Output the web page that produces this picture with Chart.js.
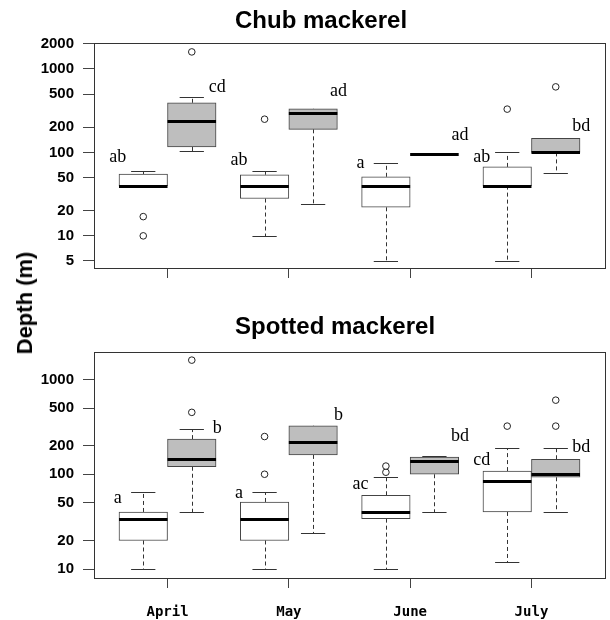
<!DOCTYPE html>
<html>
<head>
<meta charset="utf-8">
<script src="https://cdn.jsdelivr.net/npm/chart.js@4/dist/chart.umd.min.js"></script>
<style>
  html, body { margin: 0; padding: 0; background: #fff; }
  #wrap { position: relative; width: 610px; height: 620px; }
  #top { position: absolute; left: 0; top: 0; }
  #bottom { position: absolute; left: 0; top: 300px; }
  #ylab {
    position: absolute; left: 25px; top: 303px;
    transform: translate(-50%, -50%) rotate(-90deg);
    font: bold 22px "Liberation Sans", Arial, sans-serif;
    white-space: nowrap; color: #000;
  }
</style>
</head>
<body>
<div id="wrap">
  <canvas id="top" width="610" height="300"></canvas>
  <canvas id="bottom" width="610" height="320"></canvas>
  <div id="ylab">Depth (m)</div>
</div>
<script>
const months = ['April', 'May', 'June', 'July'];

// Chub mackerel (white = first box of each month, grey = second)
const chubTicks = [5, 10, 20, 50, 100, 200, 500, 1000, 2000];
const chubWhiteLow = [40, 10, 5, 5];
const chubWhiteQ1 = [40, 28, 22, 40];
const chubWhiteMed = [40, 40, 40, 40];
const chubWhiteQ3 = [55, 54, 51, 67];
const chubWhiteHigh = [60, 60, 75, 102];
const chubWhiteOut = [[17, 10], [250], [], [330]];
const chubGreyLow = [104, 24, 95, 57];
const chubGreyQ1 = [116, 189, 95, 100];
const chubGreyMed = [239, 294, 95, 100];
const chubGreyQ3 = [393, 333, 95, 147];
const chubGreyHigh = [464, 333, 95, 147];
const chubGreyOut = [[1600], [], [], [610]];
const chubWhiteLetters = ['ab', 'ab', 'a', 'ab'];
const chubGreyLetters = ['cd', 'ad', 'ad', 'bd'];
const chubWhiteLetterAt = [87, 81, 74, 87];
const chubGreyLetterAt = [601, 533, 161, 208];

// Spotted mackerel
const spotTicks = [10, 20, 50, 100, 200, 500, 1000];
const spotWhiteLow = [10, 10, 10, 12];
const spotWhiteQ1 = [20, 20, 34, 40];
const spotWhiteMed = [34, 34, 40, 84];
const spotWhiteQ3 = [40, 51, 60, 108];
const spotWhiteHigh = [65, 65, 94, 188];
const spotWhiteOut = [[], [100, 250], [105, 122], [322]];
const spotGreyLow = [40, 24, 40, 40];
const spotGreyQ1 = [120, 160, 100, 93];
const spotGreyMed = [145, 217, 138, 100];
const spotGreyQ3 = [235, 325, 152, 144];
const spotGreyHigh = [300, 325, 157, 188];
const spotGreyOut = [[450, 1600], [], [], [322, 605]];
const spotWhiteLetters = ['a', 'a', 'ac', 'cd'];
const spotGreyLetters = ['b', 'b', 'bd', 'bd'];
const spotWhiteLetterAt = [56, 63, 79, 141];
const spotGreyLetterAt = [302, 421, 249, 195];

function buildBoxes(low, q1, med, q3, high, out, shift) {
  return months.map((m, i) => ({
    x: i + 1 + shift, low: low[i], q1: q1[i], med: med[i], q3: q3[i], high: high[i], out: out[i]
  }));
}

const panels = {
  top: {
    title: 'Chub mackerel', titleY: 28,
    ticks: chubTicks, yMin: 4.12, yMax: 2046,
    white: buildBoxes(chubWhiteLow, chubWhiteQ1, chubWhiteMed, chubWhiteQ3, chubWhiteHigh, chubWhiteOut, -0.2),
    grey: buildBoxes(chubGreyLow, chubGreyQ1, chubGreyMed, chubGreyQ3, chubGreyHigh, chubGreyOut, 0.2),
    whiteLetters: chubWhiteLetters, greyLetters: chubGreyLetters,
    whiteLetterAt: chubWhiteLetterAt, greyLetterAt: chubGreyLetterAt,
    showMonths: false, padTop: 43, xHeight: 32
  },
  bottom: {
    title: 'Spotted mackerel', titleY: 34,
    ticks: spotTicks, yMin: 8.04, yMax: 1950,
    white: buildBoxes(spotWhiteLow, spotWhiteQ1, spotWhiteMed, spotWhiteQ3, spotWhiteHigh, spotWhiteOut, -0.2),
    grey: buildBoxes(spotGreyLow, spotGreyQ1, spotGreyMed, spotGreyQ3, spotGreyHigh, spotGreyOut, 0.2),
    whiteLetters: spotWhiteLetters, greyLetters: spotGreyLetters,
    whiteLetterAt: spotWhiteLetterAt, greyLetterAt: spotGreyLetterAt,
    showMonths: true, padTop: 52, xHeight: 42
  }
};

function hline(ctx, x1, x2, y) {
  ctx.beginPath();
  ctx.moveTo(x1, y);
  ctx.lineTo(x2, y);
  ctx.stroke();
}

const boxPlot = {
  id: 'boxPlot',
  beforeDatasetsDraw(chart) {
    const p = panels[chart.canvas.id];
    const { ctx } = chart;
    const x = chart.scales.x, y = chart.scales.y;
    ctx.save();
    ctx.strokeStyle = '#333';
    ctx.lineWidth = 1;
    p.white.concat(p.grey).forEach(b => {
      const cx = Math.round(x.getPixelForValue(b.x)) + 0.5;
      const yq1 = y.getPixelForValue(b.q1), yq3 = y.getPixelForValue(b.q3);
      const ylo = Math.round(y.getPixelForValue(b.low)) + 0.5;
      const yhi = Math.round(y.getPixelForValue(b.high)) + 0.5;
      ctx.setLineDash([4, 3]);
      ctx.beginPath();
      ctx.moveTo(cx, yq3); ctx.lineTo(cx, yhi);
      ctx.moveTo(cx, yq1); ctx.lineTo(cx, ylo);
      ctx.stroke();
      ctx.setLineDash([]);
      const l = x.getPixelForValue(b.x - 0.1), r = x.getPixelForValue(b.x + 0.1);
      hline(ctx, l, r, yhi);
      hline(ctx, l, r, ylo);
    });
    ctx.restore();
  },
  afterDatasetsDraw(chart) {
    const p = panels[chart.canvas.id];
    const { ctx, chartArea } = chart;
    const x = chart.scales.x, y = chart.scales.y;
    ctx.save();
    // medians
    ctx.strokeStyle = '#000';
    ctx.lineWidth = 3;
    p.white.concat(p.grey).forEach(b => {
      hline(ctx, x.getPixelForValue(b.x - 0.2), x.getPixelForValue(b.x + 0.2),
        Math.round(y.getPixelForValue(b.med)) + 0.5);
    });
    // significance letters
    ctx.fillStyle = '#000';
    ctx.font = '18px "Liberation Serif", "Times New Roman", serif';
    ctx.textAlign = 'center';
    ctx.textBaseline = 'middle';
    months.forEach((m, i) => {
      ctx.fillText(p.whiteLetters[i], x.getPixelForValue(i + 1 - 0.41), y.getPixelForValue(p.whiteLetterAt[i]));
      ctx.fillText(p.greyLetters[i], x.getPixelForValue(i + 1 + 0.41), y.getPixelForValue(p.greyLetterAt[i]));
    });
    // frame
    ctx.strokeStyle = '#333';
    ctx.lineWidth = 1;
    ctx.strokeRect(Math.round(chartArea.left) + 0.5, Math.round(chartArea.top) + 0.5,
      Math.round(chartArea.right - chartArea.left), Math.round(chartArea.bottom - chartArea.top));
    // title
    ctx.font = 'bold 24px "Liberation Sans", Arial, sans-serif';
    ctx.textAlign = 'left';
    ctx.textBaseline = 'alphabetic';
    ctx.fillText(p.title, 235, p.titleY);
    ctx.restore();
  }
};

function makeChart(id) {
  const p = panels[id];
  const outliers = p.white.concat(p.grey).flatMap(b => b.out.map(v => ({ x: b.x, y: v })));
  const barStyle = {
    type: 'bar', borderColor: '#444', borderWidth: 1, borderSkipped: false,
    grouped: false, barPercentage: 1, categoryPercentage: 1
  };
  new Chart(document.getElementById(id), {
    type: 'bar',
    data: {
      datasets: [
        Object.assign({}, barStyle, {
          label: 'white', backgroundColor: '#ffffff',
          data: p.white.map(b => ({ x: b.x, y: [b.q1, b.q3] }))
        }),
        Object.assign({}, barStyle, {
          label: 'grey', backgroundColor: '#bebebe',
          data: p.grey.map(b => ({ x: b.x, y: [b.q1, b.q3] }))
        }),
        {
          type: 'scatter', label: 'outliers', data: outliers, showLine: false,
          pointRadius: 3.3, pointBorderWidth: 1, pointBorderColor: '#222',
          pointBackgroundColor: '#fff'
        }
      ]
    },
    options: {
      responsive: false,
      animation: false,
      layout: { padding: { top: p.padTop, right: 3, bottom: 0, left: 0 } },
      plugins: { legend: { display: false }, tooltip: { enabled: false }, title: { display: false } },
      scales: {
        x: {
          type: 'linear', bounds: 'data', offset: false, min: 0.394, max: 4.606,
          afterBuildTicks: s => { s.ticks = months.map((m, i) => ({ value: i + 1 })); },
          afterFit: s => { s.height = p.xHeight; },
          ticks: {
            display: p.showMonths, autoSkip: false, maxRotation: 0, padding: 16,
            color: '#000', font: { family: '"DejaVu Sans Mono", monospace', size: 14, weight: 'bold' },
            callback: (v, i) => months[i]
          },
          grid: { display: true, offset: false, drawOnChartArea: false, drawTicks: true, tickLength: 10, color: '#444' },
          border: { display: false }
        },
        y: {
          type: 'logarithmic', bounds: 'data', min: p.yMin, max: p.yMax,
          afterBuildTicks: s => { s.ticks = p.ticks.map(v => ({ value: v })); },
          afterFit: s => { s.width = 94; },
          ticks: {
            autoSkip: false, padding: 9, color: '#000',
            font: { family: '"Liberation Sans", Arial, sans-serif', size: 15, weight: 'bold' },
            callback: v => String(v)
          },
          grid: { display: true, drawOnChartArea: false, drawTicks: true, tickLength: 11, color: '#444' },
          border: { display: false }
        }
      }
    },
    plugins: [boxPlot]
  });
}

makeChart('top');
makeChart('bottom');
</script>
</body>
</html>
